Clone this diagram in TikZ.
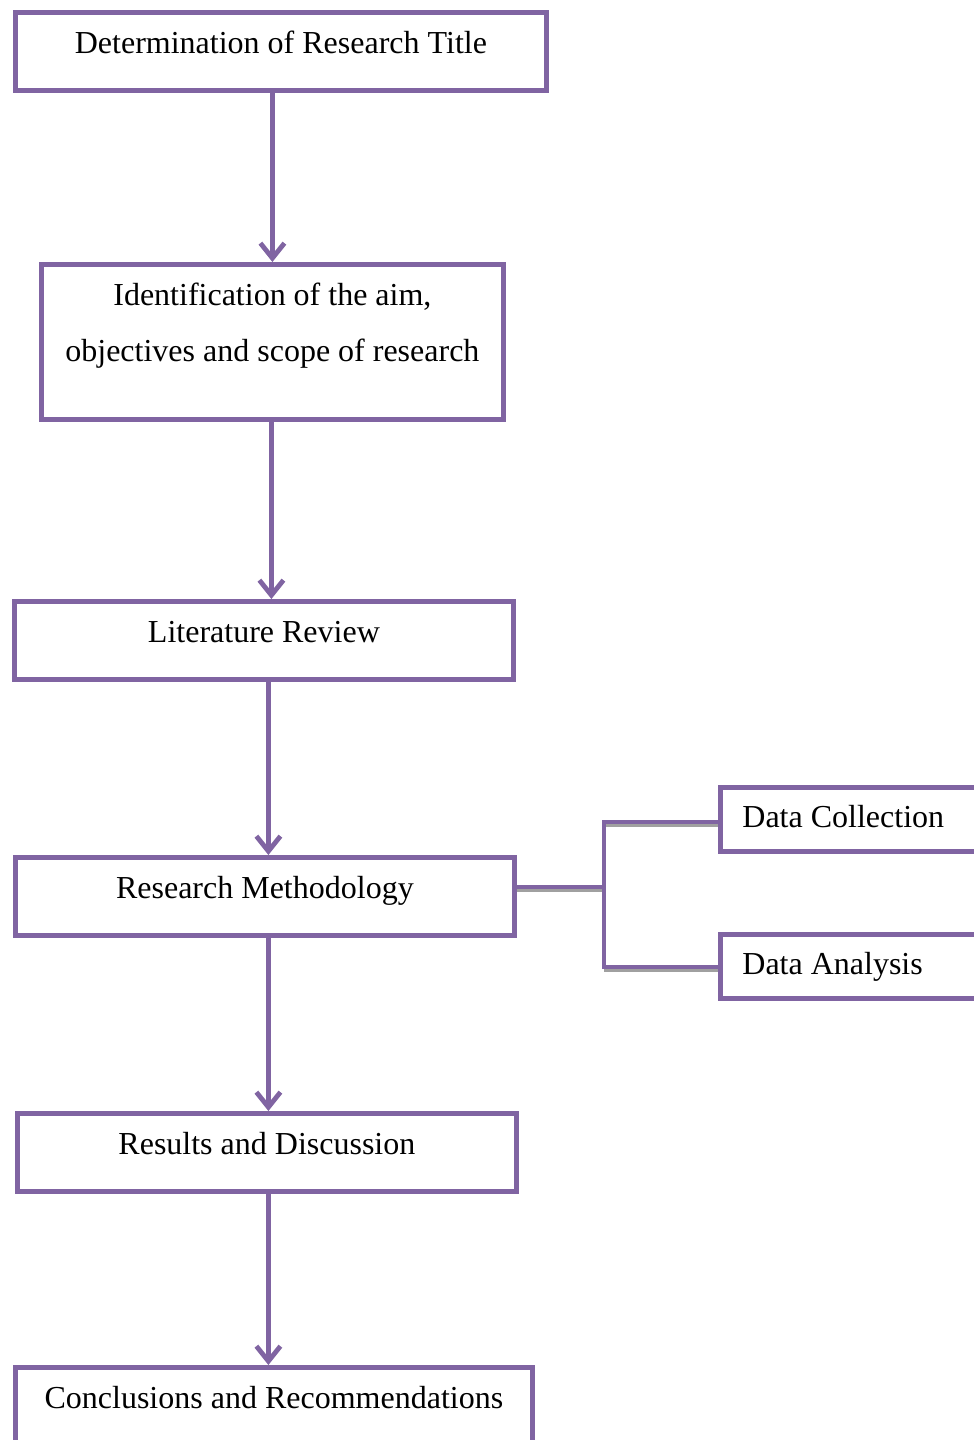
\documentclass[tikz,border=0pt]{standalone}
\usepackage{fontspec}
\setmainfont{Liberation Serif}
\usepackage{xcolor}
\usetikzlibrary{arrows.meta}
\definecolor{boxpurple}{HTML}{8064A2}
\definecolor{shadegray}{HTML}{A0A0A0}

\begin{document}
\begin{tikzpicture}[
    x=0.5pt, y=-0.5pt,
    box/.style={draw=boxpurple, fill=white, text=black, line width=2.4pt, inner sep=0pt, anchor=north west, text height=20.5pt, text depth=18.5pt, font=\fontsize{16}{28}\selectfont},
    sidebox/.style={box, text height=20pt, text depth=12pt, inner xsep=11pt, text width=128pt, align=flush left},
    arrow/.style={-{Straight Barb[length=7.5pt,width=12pt]}, draw=boxpurple, line width=2.4pt},
    link/.style={draw=boxpurple, line width=2.4pt},
    shade/.style={draw=shadegray, line width=2pt, transform canvas={yshift=-1.6pt}}
]
\useasboundingbox (0,0) rectangle (974,1440);

\begin{scope}[xshift=-1pt, yshift=1pt]
\node[box, minimum width=265.5pt] (title) at (15,12) {Determination of Research Title};
\node[box, minimum width=231pt, text height=48.5pt, text depth=29pt, align=center] (aim) at (41,264) {Identification of the aim,\\objectives and scope of research};
\node[box, minimum width=249.5pt] (review) at (14,601) {Literature Review};
\node[box, minimum width=249.5pt] (method) at (15,857) {Research Methodology};
\node[box, minimum width=249.5pt] (results) at (17,1113) {Results and Discussion};
\node[box, minimum width=258.5pt] (concl) at (15,1367) {Conclusions and Recommendations};

\node[sidebox] (collect) at (720,787) {Data Collection};
\node[sidebox] (analyse) at (720,934) {Data Analysis};

% main flow
\draw[arrow] (title.south -| aim.north) -- (aim.north);
\draw[arrow] ([xshift=-0.5pt]aim.south) -- ([xshift=-0.5pt]aim.south |- review.north);
\draw[arrow] ([xshift=2.25pt]review.south) -- ([xshift=2.25pt]review.south |- method.north);
\draw[arrow] ([xshift=1.75pt]method.south) -- ([xshift=1.75pt]method.south |- results.north);
\draw[arrow] ([xshift=0.75pt]results.south) -- ([xshift=0.75pt]results.south |- concl.north);

% branch to the two sub-steps
\coordinate (split) at (606,889);
\coordinate (jtop) at (606,824);
\coordinate (jbot) at (606,969);
\draw[shade] (method.east |- split) -- (split);
\draw[shade] (jtop) -- (collect.west |- jtop);
\draw[shade] (jbot) -- (analyse.west |- jbot);
\draw[link] (method.east |- split) -- (split);
\draw[link] (collect.west |- jtop) -- (jtop) -- (jbot) -- (analyse.west |- jbot);
\end{scope}
\end{tikzpicture}
\end{document}
